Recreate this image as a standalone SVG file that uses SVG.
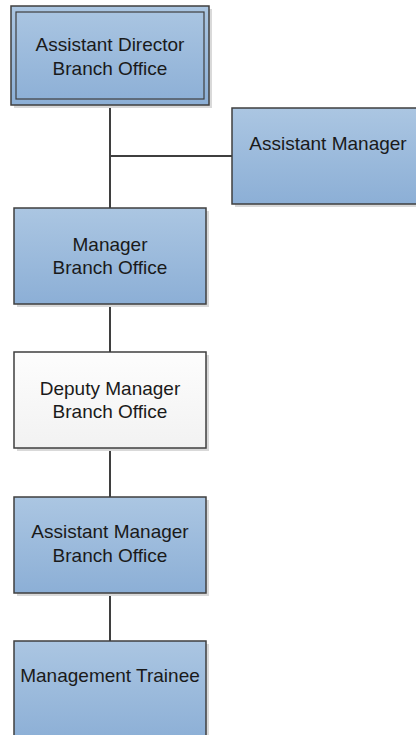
<svg xmlns="http://www.w3.org/2000/svg" width="416" height="735" viewBox="0 0 416 735">
<defs>
<linearGradient id="blue" x1="0" y1="0" x2="0" y2="1">
<stop offset="0" stop-color="#abc6e2"/>
<stop offset="1" stop-color="#8cafd6"/>
</linearGradient>
<linearGradient id="white" x1="0" y1="0" x2="0" y2="1">
<stop offset="0" stop-color="#fdfdfd"/>
<stop offset="1" stop-color="#f2f2f2"/>
</linearGradient>
</defs>
<style>
.shadow{fill:#d9d9d9;}
.box{stroke:#3f3f3f;stroke-width:1.5;}
.b{fill:url(#blue);}
.w{fill:url(#white);}
.inner{fill:none;stroke:#3f3f3f;stroke-width:1.2;}
text{font-family:"Liberation Sans",Arial,sans-serif;font-size:19px;fill:#1a1a1a;text-anchor:middle;}
.conn{stroke:#3f3f3f;stroke-width:2;fill:none;}
</style>
<rect width="416" height="735" fill="#ffffff"/>
<g id="connectors">
<line class="conn" x1="110" y1="105" x2="110" y2="208"/>
<line class="conn" x1="110" y1="156" x2="232" y2="156"/>
<line class="conn" x1="110" y1="304" x2="110" y2="352"/>
<line class="conn" x1="110" y1="448" x2="110" y2="497"/>
<line class="conn" x1="110" y1="593" x2="110" y2="641"/>
</g>
<g id="assistant-director">
<rect class="shadow" x="14" y="9" width="198" height="99"/>
<rect class="box b" x="11" y="6" width="198" height="99"/>
<rect class="inner" x="16" y="12" width="188" height="87"/>
<text x="110" y="51">Assistant Director</text>
<text x="110" y="75">Branch Office</text>
</g>
<g id="assistant-manager">
<rect class="shadow" x="235" y="111" width="190" height="96"/>
<rect class="box b" x="232" y="108" width="190" height="96"/>
<text x="328" y="150">Assistant Manager</text>
</g>
<g id="manager">
<rect class="shadow" x="17" y="211" width="192" height="96"/>
<rect class="box b" x="14" y="208" width="192" height="96"/>
<text x="110" y="251">Manager</text>
<text x="110" y="274">Branch Office</text>
</g>
<g id="deputy-manager">
<rect class="shadow" x="17" y="355" width="192" height="96"/>
<rect class="box w" x="14" y="352" width="192" height="96"/>
<text x="110" y="395">Deputy Manager</text>
<text x="110" y="418">Branch Office</text>
</g>
<g id="assistant-manager-branch">
<rect class="shadow" x="17" y="500" width="192" height="96"/>
<rect class="box b" x="14" y="497" width="192" height="96"/>
<text x="110" y="538">Assistant Manager</text>
<text x="110" y="562">Branch Office</text>
</g>
<g id="management-trainee">
<rect class="shadow" x="17" y="644" width="192" height="100"/>
<rect class="box b" x="14" y="641" width="192" height="100"/>
<text x="110" y="682">Management Trainee</text>
</g>
</svg>
